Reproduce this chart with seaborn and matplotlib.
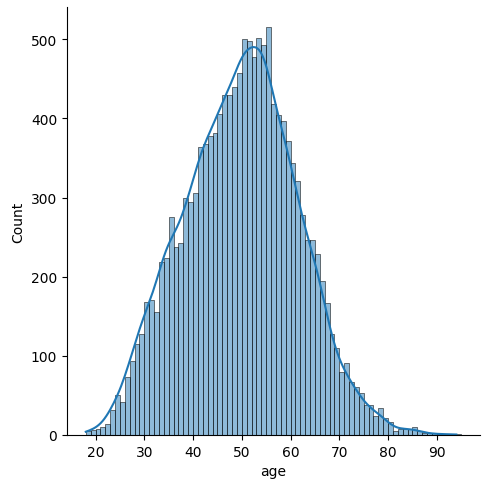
import numpy as np
import pandas as pd
import seaborn as sns
import matplotlib
matplotlib.use("Agg")
import matplotlib.pyplot as plt

ages = list(range(18, 96))
counts = [5, 6, 8, 10, 14, 31, 50, 42, 73, 94,          # 18-27
          115, 128, 168, 170, 155, 218, 224, 276, 238, 243,  # 28-37
          299, 294, 306, 364, 368, 378, 381, 405, 430, 429,  # 38-47
          440, 457, 500, 498, 478, 501, 493, 515, 418, 404,  # 48-57
          397, 372, 344, 321, 278, 246, 247, 229, 194, 167,  # 58-67
          128, 110, 79, 91, 67, 61, 53, 38, 38, 24,          # 68-77
          34, 22, 16, 5, 8, 7, 8, 10, 5, 3,                  # 78-87
          2, 2, 1, 1, 1, 1, 1, 0]                            # 88-95

df = pd.DataFrame({"age": np.repeat(ages, counts)})

g = sns.displot(data=df, x="age", kde=True, binwidth=1, binrange=(18, 95), height=5)
fig = g.figure
fig.set_size_inches(4.89, 4.89)
fig.subplots_adjust(left=67/489, right=480/489, bottom=(489-436)/489, top=1-8/489)
fig.savefig("out.png", dpi=100)
